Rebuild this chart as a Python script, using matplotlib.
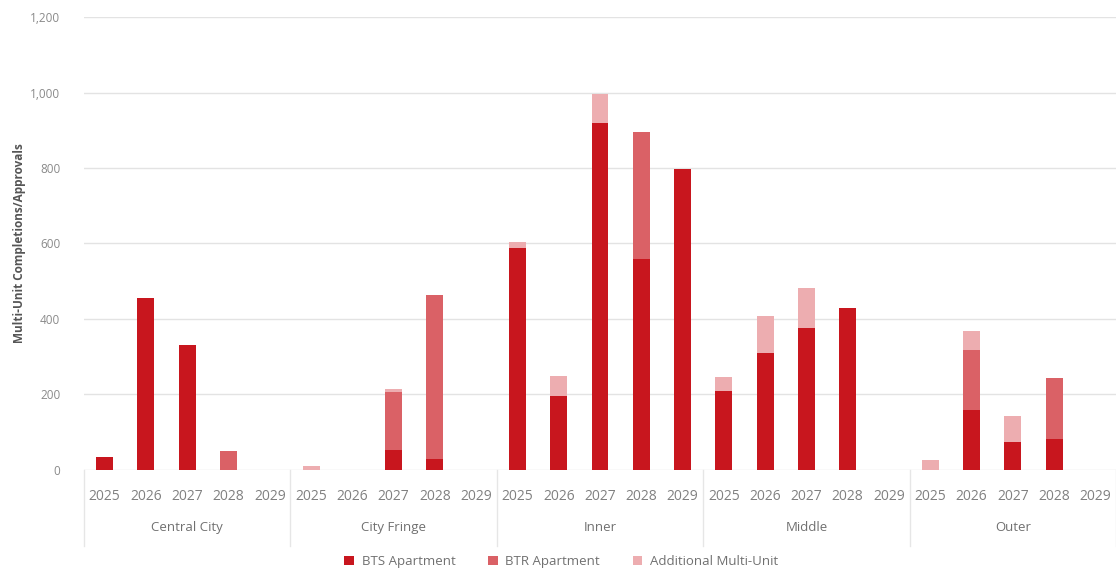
import matplotlib
matplotlib.use("Agg")
import matplotlib.pyplot as plt
from matplotlib.patches import Patch
from matplotlib.transforms import blended_transform_factory

plt.rcParams['font.family'] = ['Open Sans', 'DejaVu Sans']

regions = ["Central City", "City Fringe", "Inner", "Middle", "Outer"]
years = ["2025", "2026", "2027", "2028", "2029"]

# One value per region/year pair, regions in order, years 2025-2029
bts_apartment = [35, 456, 330, 0, 0,
                 0, 0, 52, 28, 0,
                 588, 195, 920, 560, 797,
                 210, 310, 377, 430, 0,
                 0, 158, 73, 83, 0]
btr_apartment = [0, 0, 0, 50, 0,
                 0, 0, 155, 436, 0,
                 0, 0, 0, 336, 0,
                 0, 0, 0, 0, 0,
                 0, 160, 0, 160, 0]
additional_multi_unit = [0, 0, 0, 0, 0,
                         10, 0, 8, 0, 0,
                         15, 55, 75, 0, 0,
                         37, 98, 105, 0, 0,
                         27, 50, 70, 0, 0]

series_names = ["BTS Apartment", "BTR Apartment", "Additional Multi-Unit"]
colors = ["#C8161E", "#DA6166", "#EDADB0"]
y_ticks = [0, 200, 400, 600, 800, 1000, 1200]

fig = plt.figure(figsize=(11.16, 5.73), dpi=100)
ax = fig.add_axes([0.0753, 0.1798, 0.9247, 0.7905])

n = len(regions) * len(years)
x = list(range(n))
bar_w = 0.41

bottom = [0] * n
for vals, col in zip([bts_apartment, btr_apartment, additional_multi_unit], colors):
    ax.bar(x, vals, width=bar_w, bottom=bottom, color=col, zorder=3)
    bottom = [b + v for b, v in zip(bottom, vals)]

ax.set_xlim(-0.5, n - 0.5)
ax.set_ylim(0, 1200)
ax.set_yticks(y_ticks)
ax.set_yticklabels([f"{v:,}" for v in y_ticks])
ax.grid(axis='y', color='#E3E3E3', linewidth=1.0, zorder=0)
ax.set_axisbelow(True)

for s in ax.spines.values():
    s.set_visible(False)

ax.tick_params(axis='y', length=0, pad=17, labelsize=8.5, labelcolor='#8A8A8A')
ax.tick_params(axis='x', length=0, pad=14, labelsize=10, labelcolor='#808080')
ax.set_xticks(x)
ax.set_xticklabels(years * len(regions))

ax.set_ylabel("Multi-Unit Completions/Approvals", fontsize=8.5, fontweight='bold',
              color='#555555')
ax.yaxis.set_label_coords(-0.056, 0.5)

trans = blended_transform_factory(ax.transData, ax.transAxes)
ngroup = len(years)
for i, name in enumerate(regions):
    center = i * ngroup + (ngroup - 1) / 2
    ax.text(center, -0.128, name, transform=trans, ha='center', va='center',
            fontsize=9.5, color='#707070')
for i in range(len(regions) + 1):
    xs = i * ngroup - 0.5
    ax.plot([xs, xs], [0, -0.168], transform=trans, color='#E6E6E6',
            linewidth=1.0, clip_on=False)

handles = [Patch(facecolor=c, edgecolor='none') for c in colors]
fig.legend(handles, series_names, loc='center', bbox_to_anchor=(0.503, 0.02),
           ncol=3, frameon=False, fontsize=9.5, handlelength=0.7, handleheight=0.7,
           columnspacing=2.5, handletextpad=0.6, labelcolor='#707070')

fig.savefig("out.png", dpi=100)
